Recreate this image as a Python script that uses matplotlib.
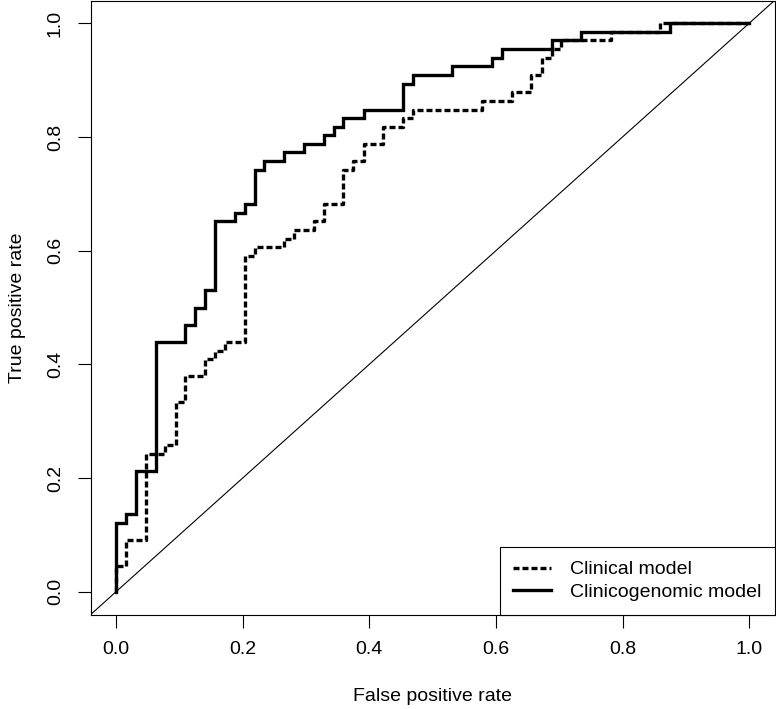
import matplotlib
matplotlib.use("Agg")
import matplotlib.pyplot as plt

plt.rcParams['font.family'] = ['Liberation Sans', 'DejaVu Sans']

# Clinicogenomic model ROC corner points (top of each vertical rise)
geno_fpr = [0, 0, 0.016, 0.031, 0.063, 0.109, 0.125, 0.141, 0.156, 0.188, 0.203,
            0.219, 0.234, 0.266, 0.297, 0.328, 0.344, 0.359, 0.391, 0.453, 0.469,
            0.531, 0.594, 0.609, 0.688, 0.734, 0.875, 1.0]
geno_tpr = [0, 0.121, 0.136, 0.212, 0.439, 0.470, 0.500, 0.530, 0.652, 0.667, 0.682,
            0.742, 0.758, 0.773, 0.788, 0.803, 0.818, 0.833, 0.848, 0.894, 0.909,
            0.924, 0.939, 0.955, 0.970, 0.985, 1.0, 1.0]

# Clinical model ROC corner points
clin_fpr = [0, 0, 0.016, 0.047, 0.078, 0.094, 0.109, 0.141, 0.156, 0.172, 0.203,
            0.219, 0.266, 0.281, 0.313, 0.328, 0.359, 0.375, 0.391, 0.422, 0.453,
            0.469, 0.578, 0.625, 0.656, 0.672, 0.688, 0.703, 0.781, 0.859, 1.0]
clin_tpr = [0, 0.045, 0.091, 0.242, 0.258, 0.333, 0.379, 0.409, 0.424, 0.439, 0.591,
            0.606, 0.621, 0.636, 0.652, 0.682, 0.742, 0.758, 0.788, 0.818, 0.833,
            0.848, 0.864, 0.879, 0.909, 0.939, 0.955, 0.970, 0.985, 1.0, 1.0]

ticks = [0.0, 0.2, 0.4, 0.6, 0.8, 1.0]
tick_labels = ["0.0", "0.2", "0.4", "0.6", "0.8", "1.0"]
legend_labels = ["Clinical model", "Clinicogenomic model"]

FS = 14
W, H = 776, 709
fig = plt.figure(figsize=(W / 100, H / 100), dpi=100)
x0, x1 = 90.7, 774.5
yt, yb = 0.5, 614.5
ax = fig.add_axes([x0 / W, (H - yb) / H, (x1 - x0) / W, (yb - yt) / H])
ax.set_xlim(-0.04, 1.04)
ax.set_ylim(-0.04, 1.04)

lw = 2.4
l1, = ax.plot(clin_fpr, clin_tpr, drawstyle='steps-post', color='black', lw=lw,
              linestyle=(0, (1.8, 0.9)), dash_capstyle='butt')
l2, = ax.plot(geno_fpr, geno_tpr, drawstyle='steps-post', color='black', lw=lw,
              solid_joinstyle='miter')
ax.plot([-0.04, 1.04], [-0.04, 1.04], color='black', lw=0.8)

for s in ax.spines.values():
    s.set_linewidth(0.8)
    s.set_color('black')

ax.set_xticks(ticks)
ax.set_xticklabels(tick_labels)
ax.set_yticks(ticks)
ax.set_yticklabels(tick_labels, rotation=90, va='center')
ax.tick_params(axis='both', length=9.4, width=0.8, labelsize=FS, color='black')
ax.tick_params(axis='x', pad=10)
ax.tick_params(axis='y', pad=10)

ax.set_xlabel("False positive rate", fontsize=FS, labelpad=21)
ax.set_ylabel("True positive rate", fontsize=FS, labelpad=15)

leg = ax.legend([l1, l2], legend_labels, loc='lower right', borderaxespad=0,
                fontsize=FS, fancybox=False, edgecolor='black', framealpha=1,
                handlelength=1.96, handletextpad=0.93, labelspacing=0.25,
                borderpad=0.7)
leg.get_frame().set_linewidth(0.8)

fig.savefig("out.png", dpi=100)
